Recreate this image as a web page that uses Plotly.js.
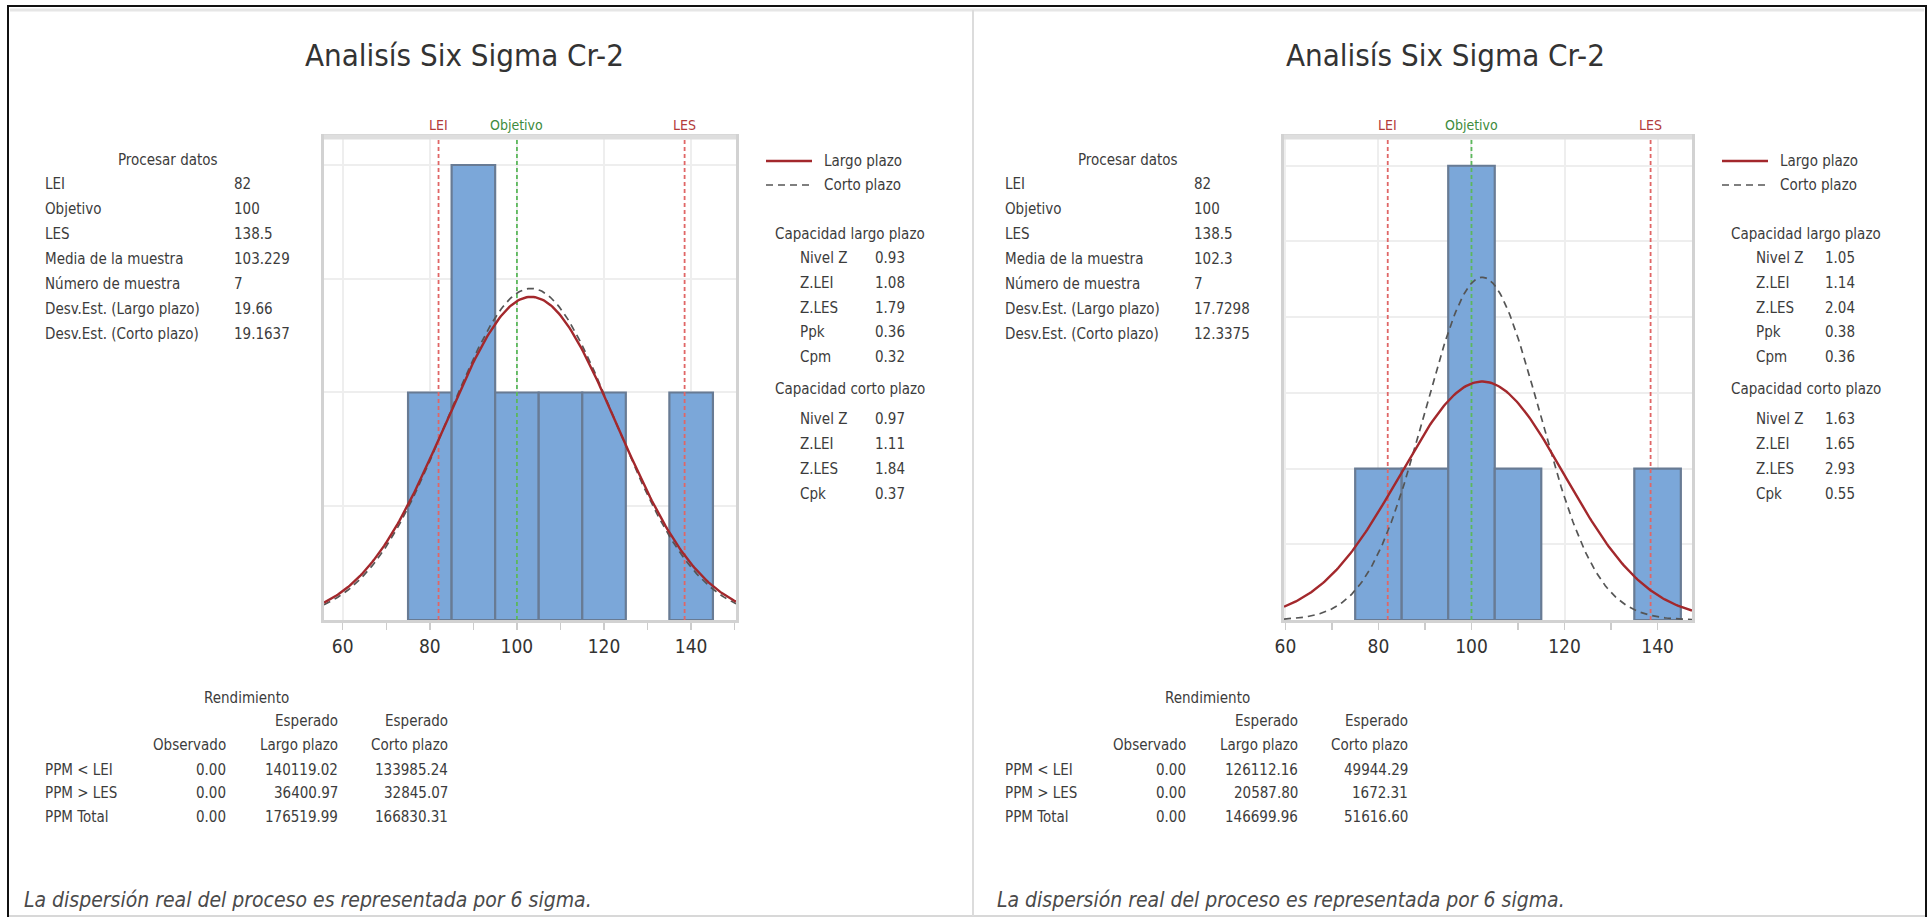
<!DOCTYPE html>
<html>
<head>
<meta charset="utf-8">
<script src="https://cdn.plot.ly/plotly-3.0.1.min.js"></script>
<style>html,body{margin:0;padding:0;background:#fff;}#chart{width:1928px;height:918px;}</style>
</head>
<body>
<div id="chart"></div>
<script>
// ---------------- DATA ----------------
const chartTitle = 'Analisís Six Sigma Cr-2';
const tickValues = [60, 80, 100, 120, 140];
const binWidth = 10;

// left panel histogram
const binCentersA = [80, 90, 100, 110, 120, 140];
const countsA = [1, 2, 1, 1, 1, 1];
// right panel histogram
const binCentersB = [80, 90, 100, 110, 140];
const countsB = [1, 1, 3, 1, 1];

const specNames = ['LEI', 'Objetivo', 'LES'];
const specValues = [82, 100, 138.5];

const processLabels = ['LEI', 'Objetivo', 'LES', 'Media de la muestra', 'Número de muestra', 'Desv.Est. (Largo plazo)', 'Desv.Est. (Corto plazo)'];
const processValuesA = ['82', '100', '138.5', '103.229', '7', '19.66', '19.1637'];
const processValuesB = ['82', '100', '138.5', '102.3', '7', '17.7298', '12.3375'];

// fitted-normal parameters [mean, sdLong, sdShort, n]
const fitA = [103.229, 19.66, 19.1637, 7];
const fitB = [102.3, 17.7298, 12.3375, 7];

const longLabels = ['Nivel Z', 'Z.LEI', 'Z.LES', 'Ppk', 'Cpm'];
const longValuesA = ['0.93', '1.08', '1.79', '0.36', '0.32'];
const longValuesB = ['1.05', '1.14', '2.04', '0.38', '0.36'];
const shortLabels = ['Nivel Z', 'Z.LEI', 'Z.LES', 'Cpk'];
const shortValuesA = ['0.97', '1.11', '1.84', '0.37'];
const shortValuesB = ['1.63', '1.65', '2.93', '0.55'];

const ppmLabels = ['PPM < LEI', 'PPM > LES', 'PPM Total'];
const ppmObservedA = ['0.00', '0.00', '0.00'];
const ppmLongA = ['140119.02', '36400.97', '176519.99'];
const ppmShortA = ['133985.24', '32845.07', '166830.31'];
const ppmObservedB = ['0.00', '0.00', '0.00'];
const ppmLongB = ['126112.16', '20587.80', '146699.96'];
const ppmShortB = ['49944.29', '1672.31', '51616.60'];

const footnote = 'La dispersión real del proceso es representada por 6 sigma.';

// ---------------- LAYOUT HELPERS ----------------
const W = 1928, H = 918;
const FONT = '"Liberation Sans Narrow", "DejaVu Sans Condensed", "Arial Narrow", sans-serif';
const TXT = '#3c3c3c';
const px = x => x / W;
const py = y => 1 - y / H;

const panels = [
  {xa: 'x', ya: 'y', bins: binCentersA, counts: countsA, fit: fitA, proc: processValuesA,
   lv: longValuesA, sv: shortValuesA, obs: ppmObservedA, pl: ppmLongA, ps: ppmShortA,
   xr: [55.7, 150.3], yr: [0, 2.123], dom: [324, 736], off: 0, titleX: 464, legX: 766, capX: 850, capLab: 798, capVal: 873},
  {xa: 'x2', ya: 'y2', bins: binCentersB, counts: countsB, fit: fitB, proc: processValuesB,
   lv: longValuesB, sv: shortValuesB, obs: ppmObservedB, pl: ppmLongB, ps: ppmShortB,
   xr: [59.7, 147.4], yr: [0, 3.19], dom: [1284, 1692], off: 960, titleX: 1445, legX: 1722, capX: 1806, capLab: 1754, capVal: 1823}
];

const traces = [];
const annotations = [];
const shapes = [];

function txt(x, y, text, o) {
  o = o || {};
  annotations.push({
    xref: 'paper', yref: 'paper', x: px(x), y: py(y), text: text, showarrow: false,
    xanchor: o.xa || 'left', yanchor: 'middle',
    font: {family: FONT, size: o.size || 15, color: o.color || TXT}
  });
}

panels.forEach((p, i) => {
  const ymax = p.yr[1];
  // spec limit lines (under bars)
  specNames.forEach((nm, k) => {
    const col = nm === 'Objetivo' ? '#5cb85c' : '#e06666';
    traces.push({type: 'scatter', mode: 'lines', x: [specValues[k], specValues[k]], y: [0, ymax],
      xaxis: p.xa, yaxis: p.ya, line: {color: col, width: 1.8, dash: '4px,3px'}, hoverinfo: 'skip', showlegend: false});
    annotations.push({xref: p.xa, yref: 'paper', x: specValues[k], y: py(125), text: nm, showarrow: false,
      xanchor: 'center', yanchor: 'middle',
      font: {family: FONT, size: 14, color: nm === 'Objetivo' ? '#3d8b3d' : '#b23b3b'}});
  });
  // histogram bars
  traces.push({type: 'bar', x: p.bins, y: p.counts, width: binWidth, xaxis: p.xa, yaxis: p.ya,
    marker: {color: '#7ba7d9', line: {color: '#687b94', width: 2.2}}, hoverinfo: 'x+y', showlegend: false});
  // fitted normal curves, scaled to counts
  const [mu, sdL, sdS, n] = p.fit;
  const xs = [], yL = [], yS = [];
  const steps = 240;
  for (let s = 0; s <= steps; s++) {
    const x = p.xr[0] + (p.xr[1] - p.xr[0]) * s / steps;
    xs.push(x);
    yL.push(n * binWidth * Math.exp(-0.5 * ((x - mu) / sdL) ** 2) / (sdL * Math.sqrt(2 * Math.PI)));
    yS.push(n * binWidth * Math.exp(-0.5 * ((x - mu) / sdS) ** 2) / (sdS * Math.sqrt(2 * Math.PI)));
  }
  traces.push({type: 'scatter', mode: 'lines', x: xs, y: yS, xaxis: p.xa, yaxis: p.ya,
    line: {color: '#555555', width: 1.7, dash: '7px,5px'}, hoverinfo: 'skip', showlegend: false});
  traces.push({type: 'scatter', mode: 'lines', x: xs, y: yL, xaxis: p.xa, yaxis: p.ya,
    line: {color: '#a3282c', width: 2.4}, hoverinfo: 'skip', showlegend: false});

  // top frame band
  shapes.push({type: 'line', xref: 'paper', yref: 'paper', x0: px(p.dom[0]), x1: px(p.dom[1]), y0: py(137), y1: py(137),
    line: {color: '#dedede', width: 5}});

  // title
  txt(p.titleX, 55, chartTitle, {xa: 'center', size: 31, color: '#333333'});

  // process data block
  const o = p.off;
  txt(168 + o, 160, 'Procesar datos', {xa: 'center'});
  const rowY = [184, 209, 234, 259, 284, 309, 334];
  processLabels.forEach((l, k) => {
    txt(43 + o, rowY[k], l);
    txt(232 + o, rowY[k], p.proc[k]);
  });

  // legend
  shapes.push({type: 'line', xref: 'paper', yref: 'paper', x0: px(p.legX), x1: px(p.legX + 46), y0: py(161), y1: py(161),
    line: {color: '#a3282c', width: 2.4}});
  shapes.push({type: 'line', xref: 'paper', yref: 'paper', x0: px(p.legX), x1: px(p.legX + 46), y0: py(185), y1: py(185),
    line: {color: '#555555', width: 1.7, dash: '7px,5px'}});
  txt(p.legX + 56, 161, 'Largo plazo');
  txt(p.legX + 56, 185, 'Corto plazo');

  // capability blocks
  txt(p.capX, 234, 'Capacidad largo plazo', {xa: 'center'});
  const lY = [258, 283, 308, 332, 357];
  longLabels.forEach((l, k) => { txt(p.capLab, lY[k], l); txt(p.capVal, lY[k], p.lv[k]); });
  txt(p.capX, 389, 'Capacidad corto plazo', {xa: 'center'});
  const sY = [419, 444, 469, 494];
  shortLabels.forEach((l, k) => { txt(p.capLab, sY[k], l); txt(p.capVal, sY[k], p.sv[k]); });

  // yield table
  txt(247 + o, 698, 'Rendimiento', {xa: 'center'});
  txt(340 + o, 721, 'Esperado', {xa: 'right'});
  txt(450 + o, 721, 'Esperado', {xa: 'right'});
  txt(228 + o, 745, 'Observado', {xa: 'right'});
  txt(340 + o, 745, 'Largo plazo', {xa: 'right'});
  txt(450 + o, 745, 'Corto plazo', {xa: 'right'});
  const pY = [770, 793, 817];
  ppmLabels.forEach((l, k) => {
    txt(43 + o, pY[k], l);
    txt(228 + o, pY[k], p.obs[k], {xa: 'right'});
    txt(340 + o, pY[k], p.pl[k], {xa: 'right'});
    txt(450 + o, pY[k], p.ps[k], {xa: 'right'});
  });

  // footnote
  txt((i === 0 ? 22 : 995), 900, '<i>' + footnote + '</i>', {size: 21, color: '#4a4a4a'});
});

// outer frame & separator
shapes.push({type: 'line', xref: 'paper', yref: 'paper', x0: px(8), x1: px(8), y0: py(6), y1: py(917), line: {color: '#111', width: 2}});
shapes.push({type: 'line', xref: 'paper', yref: 'paper', x0: px(1926), x1: px(1926), y0: py(6), y1: py(917), line: {color: '#111', width: 2}});
shapes.push({type: 'line', xref: 'paper', yref: 'paper', x0: px(7), x1: px(1927), y0: py(6), y1: py(6), line: {color: '#111', width: 2}});
shapes.push({type: 'line', xref: 'paper', yref: 'paper', x0: px(10), x1: px(1924), y0: py(10), y1: py(10), line: {color: '#e6e6e6', width: 3}});
shapes.push({type: 'line', xref: 'paper', yref: 'paper', x0: px(9), x1: px(1925), y0: py(916), y1: py(916), line: {color: '#d8d8d8', width: 2}});
shapes.push({type: 'line', xref: 'paper', yref: 'paper', x0: px(973), x1: px(973), y0: py(10), y1: py(916), line: {color: '#dcdcdc', width: 2}});

function xAxis(p) {
  return {
    domain: [px(p.dom[0]), px(p.dom[1])], range: p.xr, anchor: p.ya, tickvals: tickValues,
    ticks: 'outside', ticklen: 7, tickwidth: 1.5, tickcolor: '#cccccc',
    minor: {dtick: 10, ticks: 'outside', ticklen: 7, tickwidth: 1.5, tickcolor: '#cccccc', showgrid: false},
    showgrid: true, gridcolor: '#eeeeee', gridwidth: 2, zeroline: false,
    showline: true, linecolor: '#d2d2d2', linewidth: 3, mirror: true,
    tickfont: {family: FONT, size: 19, color: '#333333'}, fixedrange: true
  };
}
function yAxis(p) {
  return {
    domain: [py(620), py(137)], range: p.yr, anchor: p.xa, dtick: 0.5, tick0: 0,
    showticklabels: false, ticks: '', showgrid: true, gridcolor: '#eeeeee', gridwidth: 2, zeroline: false,
    showline: true, linecolor: '#d2d2d2', linewidth: 3, mirror: true, fixedrange: true
  };
}

const layout = {
  width: W, height: H, margin: {l: 0, r: 0, t: 0, b: 0},
  paper_bgcolor: '#ffffff', plot_bgcolor: '#ffffff', showlegend: false, bargap: 0,
  xaxis: xAxis(panels[0]), yaxis: yAxis(panels[0]),
  xaxis2: xAxis(panels[1]), yaxis2: yAxis(panels[1]),
  annotations: annotations, shapes: shapes
};

Plotly.newPlot('chart', traces, layout, {displayModeBar: false, staticPlot: true});
</script>
</body>
</html>
